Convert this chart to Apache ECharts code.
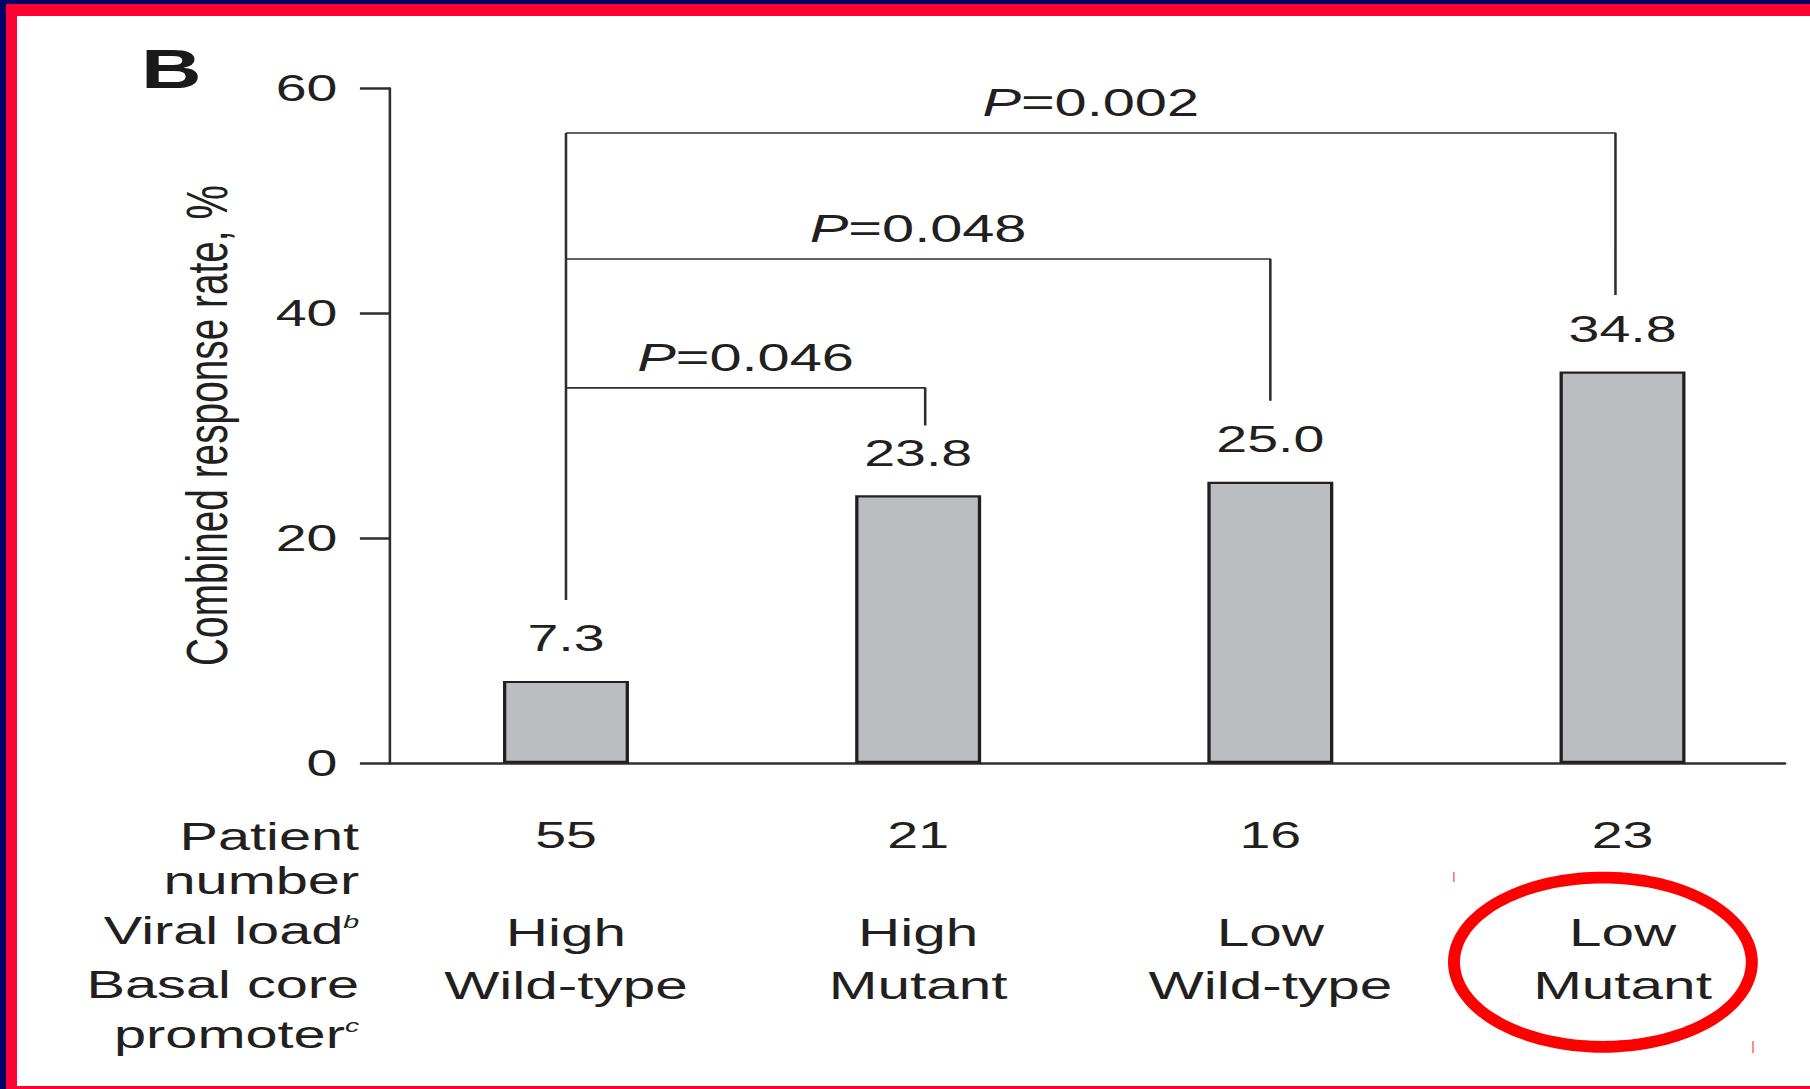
<!DOCTYPE html>
<html>
<head>
<meta charset="utf-8">
<script src="https://cdn.jsdelivr.net/npm/echarts@6/dist/echarts.min.js"></script>
<style>
html,body{margin:0;padding:0;background:#fff;overflow:hidden;width:1810px;height:1089px}
#chart{position:absolute;left:0;top:0;width:1207px;height:1089px;transform:scaleX(1.49959);transform-origin:0 0}
.f{position:absolute}
</style>
</head>
<body>
<div id="chart"></div>
<div class="f" style="left:0;top:0;width:1810px;height:4px;background:#000066"></div>
<div class="f" style="left:0;top:0;width:6px;height:1089px;background:#000066"></div>
<div class="f" style="left:6px;top:4px;width:1804px;height:12px;background:#ff0033"></div>
<div class="f" style="left:6px;top:4px;width:11px;height:1085px;background:#ff0033"></div>
<div class="f" style="left:6px;top:1086px;width:1804px;height:3px;background:#ff0033"></div>
<script>
// ---- data ----
const patientNumbers = ['55', '21', '16', '23'];
const viralLoad = ['High', 'High', 'Low', 'Low'];
const basalCorePromoter = ['Wild-type', 'Mutant', 'Wild-type', 'Mutant'];
const responseRates = [7.3, 23.8, 25.0, 34.8];
const yMin = 0, yMax = 60, yStep = 20;
const rowHeaders = ['Patient', 'number', 'Viral load', 'Basal core', 'promoter'];
const rowSuperscripts = ['', '', 'b', '', 'c'];
const pValues = ['0.046', '0.048', '0.002'];
const bracketTargets = [1.02, 2, 2.98];
const bracketLevels = [33.35, 44.8, 56.0];
const bracketLegEnds = [30.0, 32.2, 41.6];
const bracketStemBottom = 14.5;
const yAxisTitle = 'Combined response rate, %';
const panelLabel = 'B';

// ---- chart ----
const TXT = '#231f20';
const LINE = '#2e2e2e';
const FONT = '"Liberation Sans", Arial, Helvetica, sans-serif';
const chart = echarts.init(document.getElementById('chart'), null, { renderer: 'svg' });

const series = [];
series.push({
  type: 'bar',
  data: responseRates.map((v, i) => [i, v]),
  barWidth: 84,
  itemStyle: { color: '#bcbdc0', borderColor: TXT, borderWidth: 2.2 },
  label: {
    show: true, position: 'top', distance: 24,
    fontSize: 37, color: TXT, fontFamily: FONT,
    formatter: p => p.value[1].toFixed(1)
  },
  z: 2
});
series.push({
  type: 'line',
  data: [[0, Math.max(...bracketLevels)], [0, bracketStemBottom]],
  symbol: 'none',
  lineStyle: { color: LINE, width: 1.7 },
  z: 3
});
bracketTargets.forEach((t, i) => {
  series.push({
    type: 'line',
    data: [[0, bracketLevels[i]], [t, bracketLevels[i]], [t, bracketLegEnds[i]]],
    symbol: 'none',
    lineStyle: { color: LINE, width: 1.7 },
    z: 3
  });
});
series.push({
  type: 'scatter',
  data: bracketTargets.map((t, i) => ({ value: [t / 2, bracketLevels[i]], name: pValues[i] })),
  symbolSize: 1,
  itemStyle: { color: 'rgba(0,0,0,0)', opacity: 1 },
  label: {
    show: true, position: 'top', distance: 10, opacity: 1,
    fontSize: 38.5, color: TXT, fontFamily: FONT,
    formatter: p => '{i|P}{r|=' + p.name + '}',
    rich: {
      i: { fontStyle: 'italic', fontSize: 38.5, color: TXT, fontFamily: FONT },
      r: { fontSize: 38.5, color: TXT, fontFamily: FONT }
    }
  },
  emphasis: { disabled: true },
  z: 4
});

// ring polygon for the red annotation ellipse (outer one way, inner the other way)
function ringPoints(cx, cy, rxo, ryo, rxi, ryi) {
  const pts = [];
  const N = 160;
  for (let k = 0; k <= N; k++) {
    const a = 2 * Math.PI * k / N;
    pts.push([cx + rxo * Math.cos(a), cy + ryo * Math.sin(a)]);
  }
  for (let k = N; k >= 0; k--) {
    const a = 2 * Math.PI * k / N;
    pts.push([cx + rxi * Math.cos(a), cy + ryi * Math.sin(a)]);
  }
  return pts;
}

const rowY = [837, 881, 931, 985, 1035];
const graphic = [
  { type: 'text', x: 94, y: 68, style: { text: panelLabel, font: 'bold 56px ' + FONT, fill: '#1a1a1a', verticalAlign: 'middle' } }
].concat(rowHeaders.map((h, i) => ({
  type: 'text', x: 239.5, y: rowY[i],
  style: {
    text: '{m|' + h + '}' + (rowSuperscripts[i] ? '{s|' + rowSuperscripts[i] + '}' : ''),
    align: 'right', verticalAlign: 'middle',
    rich: {
      m: { fontSize: 38.5, fontFamily: FONT, fill: TXT, color: TXT },
      s: { fontSize: 19, fontFamily: FONT, fontStyle: 'italic', fill: TXT, color: TXT, verticalAlign: 'top' }
    }
  }
}))).concat([
  { type: 'polygon', shape: { points: ringPoints(1068.9, 962.2, 103.3, 90.5, 95.3, 78.7) }, style: { fill: '#ff0000' } },
  { type: 'rect', shape: { x: 969, y: 872, width: 1, height: 10 }, style: { fill: '#ff6666' } },
  { type: 'rect', shape: { x: 1168.5, y: 1041, width: 1, height: 12 }, style: { fill: '#ff6666' } }
]);

chart.setOption({
  animation: false,
  backgroundColor: 'transparent',
  textStyle: { fontFamily: FONT },
  grid: { left: 260, top: 88, width: 930, height: 675 },
  xAxis: {
    type: 'value', min: -0.5, max: 3.46,
    axisLine: { show: true, onZero: true, lineStyle: { color: LINE, width: 2.5 } },
    axisTick: { show: false },
    splitLine: { show: false },
    axisLabel: {
      show: true, margin: 0.5, customValues: [0, 1, 2, 3],
      formatter: v => {
        const i = Math.round(v);
        return '{n|' + patientNumbers[i] + '}\n{v|' + viralLoad[i] + '}\n{v|' + basalCorePromoter[i] + '}';
      },
      rich: {
        n: { fontSize: 37, lineHeight: 143, color: TXT, fontFamily: FONT },
        v: { fontSize: 39, lineHeight: 53, color: TXT, fontFamily: FONT }
      }
    }
  },
  yAxis: {
    type: 'value', min: yMin, max: yMax, interval: yStep,
    name: yAxisTitle, nameLocation: 'middle', nameGap: 103,
    nameTextStyle: { fontSize: 38.8, color: TXT, fontFamily: FONT },
    axisLine: { show: true, onZero: false, lineStyle: { color: LINE, width: 1.7 } },
    axisTick: { show: true, length: 20, lineStyle: { color: LINE, width: 2.5 } },
    splitLine: { show: false },
    axisLabel: { fontSize: 37, color: TXT, margin: 35, fontFamily: FONT }
  },
  series: series,
  graphic: graphic
});
</script>
</body>
</html>
